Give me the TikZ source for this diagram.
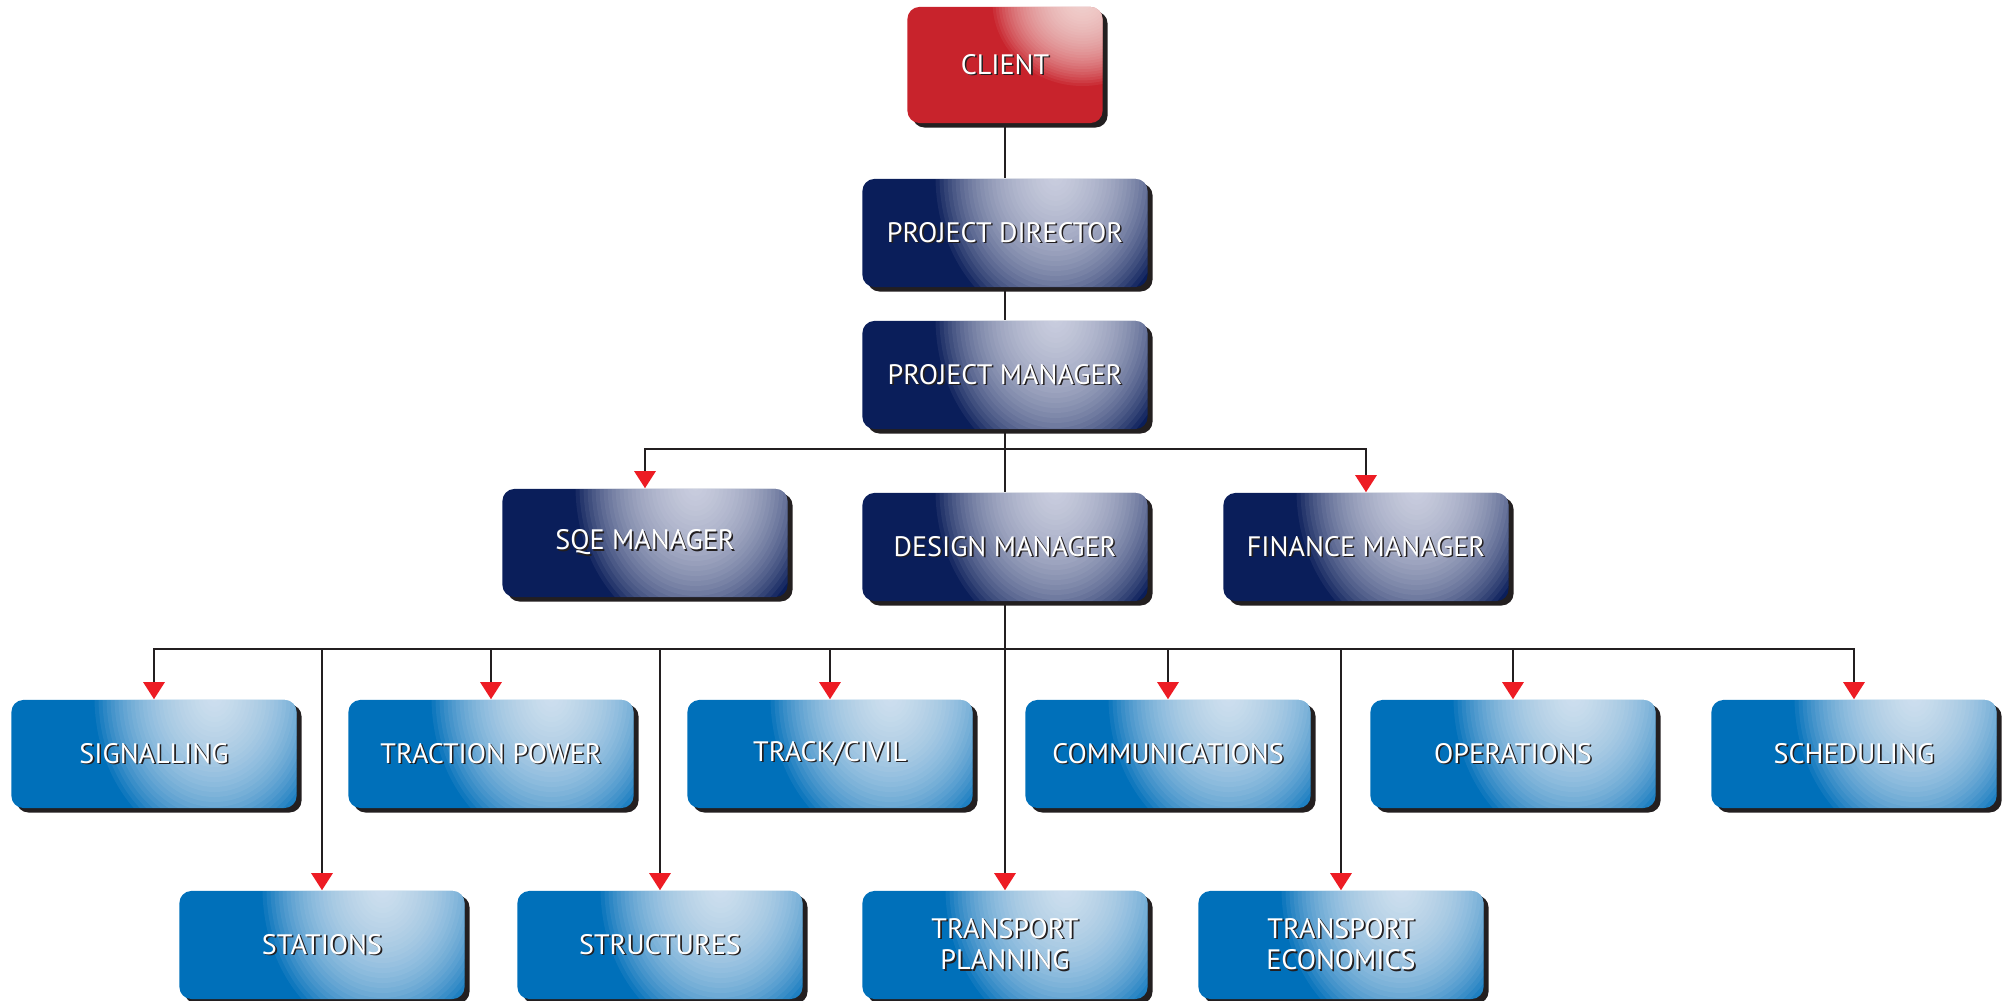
\documentclass[tikz,border=0pt]{standalone}
\usepackage{fontspec}
\setmainfont{PT Sans}
\usetikzlibrary{arrows.meta,shadows}
\definecolor{clientred}{RGB}{200,35,44}
\definecolor{clientglow}{RGB}{252,240,236}
\definecolor{navy}{RGB}{10,30,90}
\definecolor{navyglow}{RGB}{236,238,248}
\definecolor{corpblue}{RGB}{0,112,186}
\definecolor{blueglow}{RGB}{242,246,252}
\definecolor{arrowred}{RGB}{237,28,36}
\definecolor{linegray}{RGB}{35,31,32}
\newcommand{\lbl}[1]{\rlap{\textcolor{linegray}{\kern0.45pt\raisebox{-0.45pt}{#1}}}#1}
\tikzset{
    box/.style={rounded corners=0.12cm, minimum width=2.85cm, minimum height=1.08cm,
        text=white, align=center, font=\fontsize{8}{9}\selectfont,
        drop shadow={shadow xshift=0.05cm, shadow yshift=-0.045cm, opacity=1, fill=linegray}},
    navybox/.style={box, fill=navy,
        path picture={\foreach \k in {1,...,30}
            \fill [navyglow, opacity=0.065] (path picture bounding box.north east) ++(-0.92cm,0.03cm)
                ellipse [x radius=\k*0.04cm, y radius=\k*0.05cm];}},
    bluebox/.style={box, fill=corpblue,
        path picture={\foreach \k in {1,...,30}
            \fill [blueglow, opacity=0.065] (path picture bounding box.north east) ++(-0.82cm,0.03cm)
                ellipse [x radius=\k*0.04cm, y radius=\k*0.05cm];}},
    redbox/.style={box, minimum width=1.95cm, minimum height=1.16cm, fill=clientred,
        path picture={\foreach \k in {1,...,30}
            \fill [clientglow, opacity=0.065] (path picture bounding box.north east) ++(-0.2cm,0.05cm)
                ellipse [x radius=\k*0.03cm, y radius=\k*0.028cm];}},
    flow/.style={draw=linegray, line width=0.027cm},
    feed/.style={flow, -{Triangle[width=0.21cm,length=0.17cm,color=arrowred]}}
}
\begin{document}
\begin{tikzpicture}[x=0.01cm,y=-0.01cm]
        \useasboundingbox (0,0) rectangle (2002,1001);
        \node [redbox] (Client) at (1005,65) {\lbl{CLIENT}};
        \node [navybox] (Director) at (1005,233) {\lbl{PROJECT DIRECTOR}};
        \node [navybox] (Manager) at (1005,375) {\lbl{PROJECT MANAGER}};
        \node [navybox] (SQE) at (645,543) {\lbl{SQE MANAGER}};
        \node [navybox] (Design) at (1005,547) {\lbl{DESIGN MANAGER}};
        \node [navybox] (Finance) at (1366,547) {\lbl{FINANCE MANAGER}};
        \node [bluebox] (Signalling) at (154,754) {\lbl{SIGNALLING}};
        \node [bluebox] (Traction) at (491,754) {\lbl{TRACTION POWER}};
        \node [bluebox] (Track) at (830,754) {\lbl{TRACK/CIVIL}};
        \node [bluebox] (Communications) at (1168,754) {\lbl{COMMUNICATIONS}};
        \node [bluebox] (Operations) at (1513,754) {\lbl{OPERATIONS}};
        \node [bluebox] (Scheduling) at (1854,754) {\lbl{SCHEDULING}};
        \node [bluebox] (Stations) at (322,945) {\lbl{STATIONS}};
        \node [bluebox] (Structures) at (660,945) {\lbl{STRUCTURES}};
        \node [bluebox] (Planning) at (1005,945) {\lbl{TRANSPORT}\\\lbl{PLANNING}};
        \node [bluebox] (Economics) at (1341,945) {\lbl{TRANSPORT}\\\lbl{ECONOMICS}};
        \coordinate (TopBar) at (1005,449);
        \coordinate (LowBar) at (1005,649);
        \draw [flow] (Client) -- (Director);
        \draw [flow] (Director) -- (Manager);
        \draw [flow] (Manager) -- (Design);
        \draw [feed] (TopBar) -| (SQE);
        \draw [feed] (TopBar) -| (Finance);
        \draw [feed] (Design) -- (Planning);
        \draw [feed] (LowBar) -| (Signalling);
        \draw [feed] (LowBar) -| (Traction);
        \draw [feed] (LowBar) -| (Track);
        \draw [feed] (LowBar) -| (Communications);
        \draw [feed] (LowBar) -| (Operations);
        \draw [feed] (LowBar) -| (Scheduling);
        \draw [feed] (LowBar) -| (Stations);
        \draw [feed] (LowBar) -| (Structures);
        \draw [feed] (LowBar) -| (Economics);
    \end{tikzpicture}
\end{document}
